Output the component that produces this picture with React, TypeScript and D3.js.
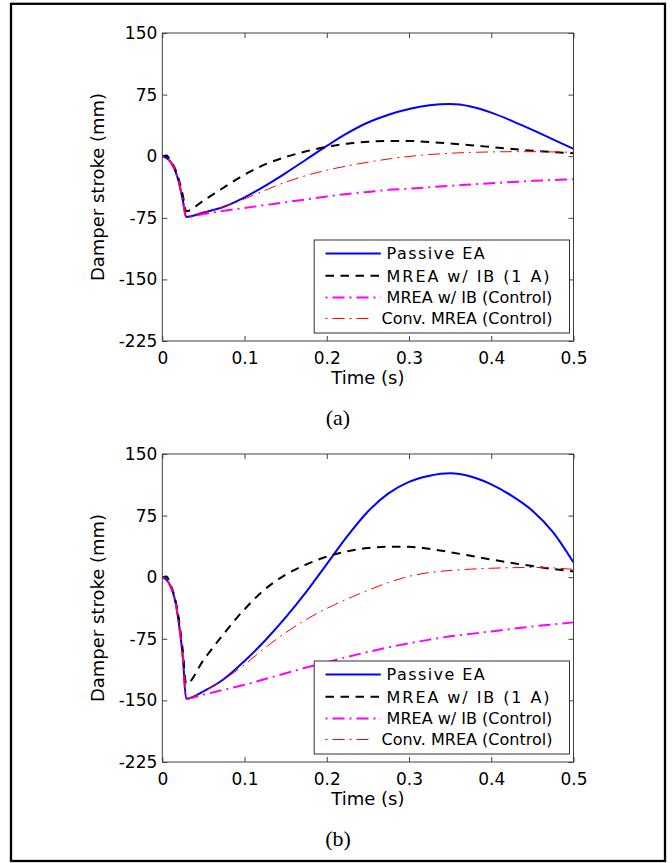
import React, { useEffect, useRef } from "react";
import * as d3 from "d3";

// time samples (s), shared by every series
const times = [0, 0.005, 0.01, 0.015, 0.02, 0.025, 0.029, 0.05, 0.075, 0.1, 0.125, 0.15, 0.175, 0.2, 0.225, 0.25, 0.275, 0.3, 0.325, 0.35, 0.375, 0.4, 0.425, 0.45, 0.475, 0.5];

// panel (a), damper stroke in mm
const passiveA = [0, -2, -7, -16, -31, -54, -74, -68.5, -61.5, -50, -36, -20.5, -4, 12.5, 28, 41, 50.5, 57.5, 62, 63.5, 60.5, 53, 43, 32, 20.5, 9];
const ib1A_A = [0, 1, -5, -14, -28, -48, -67, -54, -38, -22.5, -10, -1, 6, 11.5, 15.3, 17.5, 18.5, 18.5, 17.3, 15.5, 13.4, 11.1, 8.8, 6.7, 5, 3.6];
const ibCtrlA = [0, -2, -7, -16, -31, -54, -74, -70.5, -66.5, -63, -59.5, -56, -52.5, -49, -46, -43.5, -41, -39.5, -37.8, -36, -34.5, -33, -31.5, -30, -29, -28];
const convCtrlA = [0, -2, -7, -16, -31, -54, -74, -68.5, -61.5, -52, -41.5, -31.5, -23.5, -17, -11.8, -7.3, -3.4, -0.3, 2, 3.6, 4.6, 5.2, 5.5, 5.5, 5.2, 4.8];

// panel (b)
const passiveB = [0, -3, -11, -26, -55, -98, -148, -139, -124, -102, -77, -49, -18, 16, 50, 80, 102, 116, 123.5, 126.5, 122.5, 113, 99, 81, 55, 18];
const ib1A_B = [0, 1, -9, -24, -50, -90, -130, -101, -68.5, -39, -14.5, 3, 15.5, 25, 31.5, 35.5, 37.2, 37, 34.5, 30.5, 26, 21.5, 17.3, 13.5, 10, 7];
const ibCtrlB = [0, -3, -11, -26, -55, -98, -148, -143, -137, -131, -124, -117, -110, -103.5, -97, -91, -85.5, -80.5, -76, -72, -69, -66, -63, -60, -57.5, -55];
const convCtrlB = [0, -3, -11, -26, -55, -98, -148, -139, -124.5, -106.5, -86, -67.5, -51.5, -38, -26.5, -16, -6.5, 1, 5.7, 8.2, 9.8, 10.9, 11.6, 11.9, 11.3, 9.5];

const xTicks = [0, 0.1, 0.2, 0.3, 0.4, 0.5];
const yTicks = [-225, -150, -75, 0, 75, 150];
const legendLabels = ["Passive EA", "MREA w/ IB (1 A)", "MREA w/ IB (Control)", "Conv. MREA (Control)"];
const captions = ["(a)", "(b)"];

const panels = [
  [passiveA, ib1A_A, ibCtrlA, convCtrlA],
  [passiveB, ib1A_B, ibCtrlB, convCtrlB],
];

const styles = [
  { color: "#0000ff", width: 2, dash: "" },
  { color: "#000000", width: 2, dash: "8.5,6.5" },
  { color: "#ff00ff", width: 2, dash: "2,5,12,5" },
  { color: "#ff0000", width: 1, dash: "2,5,12,5" },
];

const W = 672;
const H = 863;
const LEFT = 162.3;
const RIGHT = 573.5;
const PLOT_H = 308;
const TOPS = [33, 454];
const FONT = "DejaVu Sans, Verdana, sans-serif";

export default function App() {
  const svgRef = useRef<SVGSVGElement>(null);

  useEffect(() => {
    const svg = d3.select(svgRef.current);
    svg.selectAll("*").remove();

    svg.append("rect")
      .attr("x", 11).attr("y", 3.8)
      .attr("width", 654).attr("height", 857.2)
      .attr("fill", "none").attr("stroke", "#000").attr("stroke-width", 2.3);

    const x = d3.scaleLinear().domain([0, 0.5]).range([LEFT, RIGHT]);

    panels.forEach((series, i) => {
      const top = TOPS[i];
      const bottom = top + PLOT_H;
      const y = d3.scaleLinear().domain([-225, 150]).range([bottom, top]);
      const g = svg.append("g");

      const styleAxis = (sel) => {
        sel.select(".domain").remove();
        sel.selectAll(".tick line").attr("stroke", "#404040");
        sel.selectAll("text")
          .attr("fill", "#000")
          .attr("font-family", FONT)
          .attr("font-size", 17);
      };

      g.append("g").attr("transform", `translate(0,${bottom})`)
        .call(d3.axisBottom(x).tickValues(xTicks).tickSizeInner(-5).tickSizeOuter(0).tickPadding(11).tickFormat((d) => String(d)))
        .call(styleAxis);
      g.append("g").attr("transform", `translate(0,${top})`)
        .call(d3.axisTop(x).tickValues(xTicks).tickSizeInner(-5).tickSizeOuter(0).tickFormat(() => ""))
        .call(styleAxis);
      g.append("g").attr("transform", `translate(${LEFT},0)`)
        .call(d3.axisLeft(y).tickValues(yTicks).tickSizeInner(-5).tickSizeOuter(0).tickPadding(5).tickFormat((d) => String(d)))
        .call(styleAxis);
      g.append("g").attr("transform", `translate(${RIGHT},0)`)
        .call(d3.axisRight(y).tickValues(yTicks).tickSizeInner(-5).tickSizeOuter(0).tickFormat(() => ""))
        .call(styleAxis);

      const line = d3.line<number>()
        .x((_, j) => x(times[j]))
        .y((d) => y(d))
        .curve(d3.curveMonotoneX);

      series.forEach((vals, k) => {
        g.append("path")
          .attr("d", line(vals))
          .attr("fill", "none")
          .attr("stroke", styles[k].color)
          .attr("stroke-width", styles[k].width)
          .attr("stroke-dasharray", styles[k].dash || null);
      });

      g.append("rect")
        .attr("x", LEFT).attr("y", top)
        .attr("width", RIGHT - LEFT).attr("height", PLOT_H)
        .attr("fill", "none").attr("stroke", "#404040").attr("stroke-width", 1);

      // legend
      const lg = g.append("g").attr("transform", `translate(0,${top + 207})`);
      lg.append("rect")
        .attr("x", 314.2).attr("y", 0)
        .attr("width", 255.3).attr("height", 93)
        .attr("fill", "#fff").attr("stroke", "#333").attr("stroke-width", 1);
      const rowY = [13.5, 35.8, 57.5, 78.5];
      const sampleEnd = [380.8, 380.8, 380.8, 371];
      const textX = [386.6, 386.6, 386.6, 381.5];
      const textLen = [98, 163, null, null];
      legendLabels.forEach((label, k) => {
        lg.append("line")
          .attr("x1", 325.5).attr("x2", sampleEnd[k])
          .attr("y1", rowY[k]).attr("y2", rowY[k])
          .attr("stroke", styles[k].color)
          .attr("stroke-width", styles[k].width)
          .attr("stroke-dasharray", styles[k].dash || null);
        const t = lg.append("text")
          .attr("x", textX[k]).attr("y", rowY[k] + 5.8)
          .attr("font-family", FONT).attr("font-size", 16)
          .text(label);
        if (textLen[k]) t.attr("textLength", textLen[k]).attr("lengthAdjust", "spacing");
      });

      g.append("text")
        .attr("x", (LEFT + RIGHT) / 2).attr("y", bottom + 43)
        .attr("text-anchor", "middle")
        .attr("font-family", FONT).attr("font-size", 18)
        .text("Time (s)");

      g.append("text")
        .attr("transform", `translate(104,${(top + bottom) / 2}) rotate(-90)`)
        .attr("text-anchor", "middle")
        .attr("font-family", FONT).attr("font-size", 18)
        .text("Damper stroke (mm)");

      g.append("text")
        .attr("x", 338).attr("y", top + 392)
        .attr("text-anchor", "middle")
        .attr("font-family", "Liberation Serif, Times New Roman, serif").attr("font-size", 22)
        .text(captions[i]);
    });
  }, []);

  return (
    <svg ref={svgRef} width={W} height={H} style={{ position: "absolute", left: 0, top: 0, background: "#fff" }}></svg>
  );
}
